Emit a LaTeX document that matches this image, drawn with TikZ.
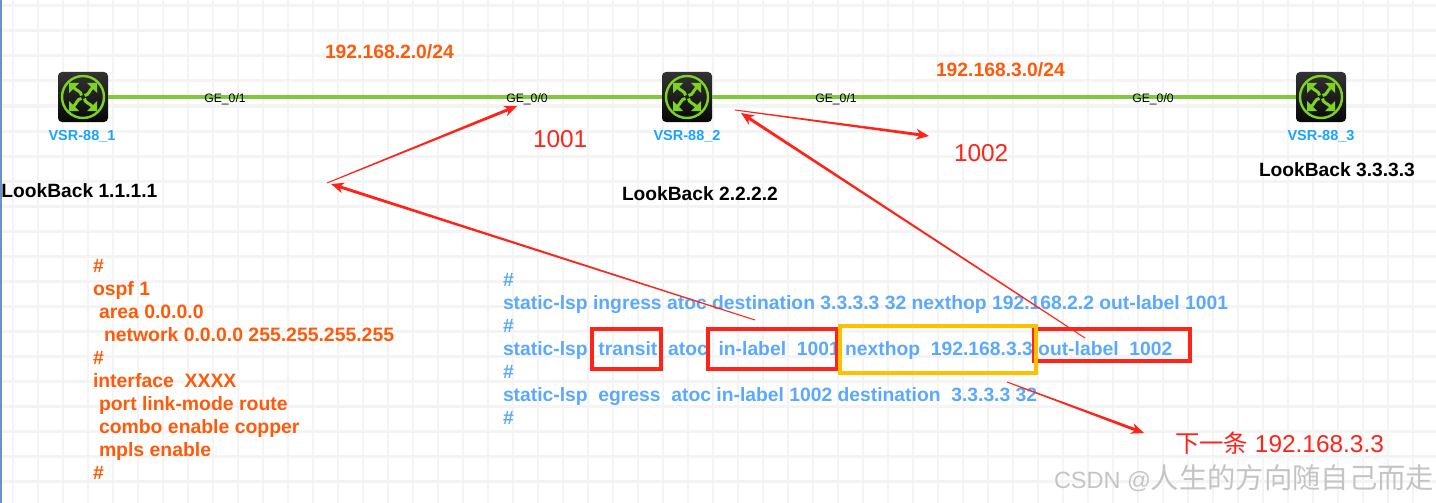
\documentclass[tikz,border=0pt]{standalone}
\usepackage{fontspec}
\setmainfont{Liberation Sans}
\newfontfamily\cjk{Noto Sans CJK SC}
\usetikzlibrary{calc}
\definecolor{gridc}{HTML}{F4F4F4}
\definecolor{linkc}{HTML}{80C83C}
\definecolor{iconc}{HTML}{7ED321}
\definecolor{devc}{HTML}{1AA3FF}
\definecolor{orangec}{HTML}{FF5A0A}
\definecolor{bluec}{HTML}{5AA9FF}
\definecolor{redc}{HTML}{FF2419}
\definecolor{yellowc}{HTML}{FFC000}
\definecolor{markc}{HTML}{C4C4C4}
\definecolor{edgec}{HTML}{6A93C4}
\tikzset{
  txt/.style={inner sep=0pt,outer sep=0pt,anchor=mid west},
  head/.style={txt,font=\bfseries\fontsize{19.2}{19.2}\selectfont},
  net/.style={txt,text=orangec,font=\bfseries\fontsize{19.3}{19.3}\selectfont},
  cfgo/.style={txt,text=orangec,font=\bfseries\fontsize{19.4}{19.4}\selectfont},
  cfgb/.style={txt,text=bluec,font=\bfseries\fontsize{19.3}{19.3}\selectfont},
  port/.style={inner sep=0pt,anchor=mid,font=\fontsize{12.2}{12.2}\selectfont},
  dev/.style={inner sep=0pt,anchor=mid,text=devc,font=\bfseries\fontsize{14.5}{14.5}\selectfont},
  lab/.style={txt,text=redc,font=\fontsize{24.4}{24.4}\selectfont},
  redbox/.style={draw=redc,line width=4pt},
  yelbox/.style={draw=yellowc,line width=4pt},
  link/.style={draw=linkc,line width=3.4pt},
  routerbox/.style={inner sep=0pt,outer sep=0pt,minimum size=50pt,rounded corners=4pt,top color=black!80,bottom color=black!97,draw=none},
}
\newcommand\routernode[3]{%
  \node[routerbox] (#1) at (#2,#3) {};
  \begin{scope}[shift={(#2,#3)}]
    \draw[iconc,line width=2.4pt] (0,0) circle (21);
    \foreach \a in {0,90,180,270}{
      \begin{scope}[rotate=\a]
        \fill[iconc] (-14,-14) -- (-4,-14) -- (-14,-4) -- cycle;
        \draw[iconc,line width=3pt] (-9.5,-9.5) .. controls (-6,-6) and (-2,-6) .. (-1.5,-1.5);
      \end{scope}
    }
  \end{scope}
}
\newcommand\annotarrow[2]{%
  \coordinate (ab) at ($(#2)!13pt!(#1)$);
  \coordinate (an) at ($(#2)!10pt!(#1)$);
  \fill[redc] ($(#1)!.5pt!90:(#2)$) -- ($(an)!1.5pt!90:(#2)$) -- ($(ab)!5.5pt!90:(#2)$) -- (#2)
    -- ($(ab)!5.5pt!-90:(#2)$) -- ($(an)!1.5pt!-90:(#2)$) -- ($(#1)!.5pt!-90:(#2)$) -- cycle;
}
\begin{document}
\begin{tikzpicture}[x=1pt,y=-1pt]
\useasboundingbox (0,0) rectangle (1436,503);
\fill[white] (0,0) rectangle (1436,503);
\foreach \x in {13,38,...,1438}{\draw[gridc,line width=2pt] (\x,0) -- (\x,503);}
\foreach \y in {6,31,...,481}{\draw[gridc,line width=3pt] (0,\y) -- (1436,\y);}
\draw[edgec,line width=1.5pt] (1,0) -- (1,503);

\routernode{r1}{83}{97}
\routernode{r2}{687}{97}
\routernode{r3}{1321}{97}
\draw[link] (r1) -- (r2);
\draw[link] (r2) -- (r3);

\node[port] (p1) at (225,100) {GE\_0/1};
\node[port] (p2) at (527,100) {GE\_0/0};
\node[port] (p3) at (836,100) {GE\_0/1};
\node[port] (p4) at (1153,100) {GE\_0/0};
\node[dev] (d1) at (82,138) {VSR-88\_1};
\node[dev] (d2) at (687,138) {VSR-88\_2};
\node[dev] (d3) at (1321,138) {VSR-88\_3};

\node[net] (n1) at (325,55.5) {192.168.2.0/24};
\node[net] (n2) at (936,73.5) {192.168.3.0/24};
\node[head] (l1) at (1.5,194.5) {LookBack 1.1.1.1};
\node[head] (l2) at (622,197.5) {LookBack 2.2.2.2};
\node[head] (l3) at (1259,173.5) {LookBack 3.3.3.3};

\node[lab] (t1) at (533,145) {1001};
\node[lab] (t2) at (954,159) {1002};
\node[lab] (t3) at (1175,450) {{\cjk 下一条} 192.168.3.3};
\node[txt,text=markc,font=\fontsize{23.5}{23.5}\selectfont] (wm) at (1054,486) {CSDN @{\cjk\fontsize{28.3}{28.3}\selectfont 人生的方向随自己而走}};

\node[cfgo] (o1) at (93,269.5) {\#};
\node[cfgo] (o2) at (93,292.5) {ospf 1};
\node[cfgo] (o3) at (99,315.5) {area 0.0.0.0};
\node[cfgo] (o4) at (104,338.5) {network 0.0.0.0 255.255.255.255};
\node[cfgo] (o5) at (93,361.5) {\#};
\node[cfgo] (o6) at (93,384.5) {interface\ \ XXXX};
\node[cfgo] (o7) at (99,407.5) {port link-mode route};
\node[cfgo] (o8) at (99,430.5) {combo enable copper};
\node[cfgo] (o9) at (99,453.5) {mpls enable};
\node[cfgo] (o10) at (93,476.5) {\#};

\node[cfgb] (b1) at (503,284) {\#};
\node[cfgb] (b2) at (503,307) {static-lsp ingress atoc destination 3.3.3.3 32 nexthop 192.168.2.2 out-label 1001};
\node[cfgb] (b3) at (503,330) {\#};
\node[cfgb] (b4) at (503,353) {static-lsp\ \ transit\ \ atoc\ \ in-label\ \ 1001 nexthop\ \ 192.168.3.3 out-label\ \ 1002};
\node[cfgb] (b5) at (503,376) {\#};
\node[cfgb] (b6) at (503,399) {static-lsp\ \ egress\ \ atoc in-label 1002 destination\ \ 3.3.3.3 32};
\node[cfgb] (b7) at (503,422) {\#};

\draw[redbox] (592,329) rectangle (661,369);
\draw[redbox] (708,329) rectangle (837,369);
\draw[redbox] (1034,329) rectangle (1190,361);
\draw[yelbox] (840,326) rectangle (1036,373);

\coordinate (a1t) at (327,183);
\coordinate (a1h) at (517,106);
\coordinate (a2t) at (755,320);
\coordinate (a2h) at (331,184);
\coordinate (a3t) at (1085,338);
\coordinate (a3h) at (741,113);
\coordinate (a4t) at (735,110);
\coordinate (a4h) at (929,136);
\coordinate (a5t) at (1007,382);
\coordinate (a5h) at (1144,433);
\annotarrow{a1t}{a1h}
\annotarrow{a2t}{a2h}
\annotarrow{a3t}{a3h}
\annotarrow{a4t}{a4h}
\annotarrow{a5t}{a5h}
\end{tikzpicture}
\end{document}
